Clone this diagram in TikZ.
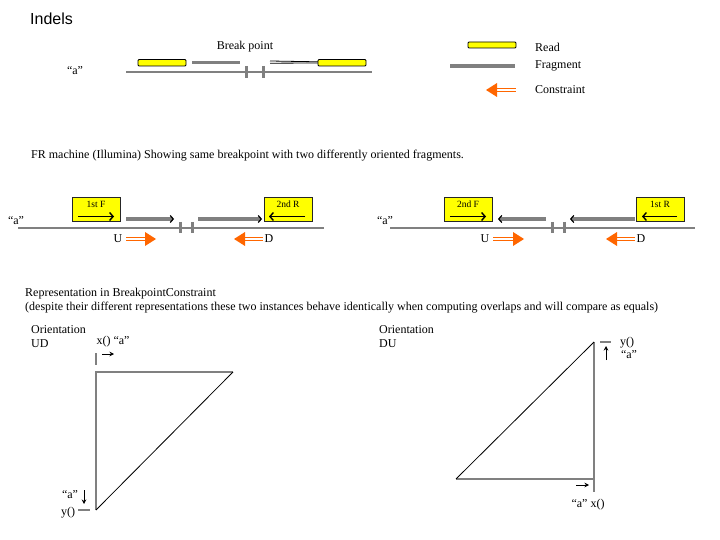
\documentclass[tikz,border=0pt]{standalone}
\usepackage{fontspec}
\setmainfont{Liberation Serif}
\newfontfamily\titlefont{Liberation Sans}
\usetikzlibrary{arrows.meta}
\definecolor{orng}{RGB}{255,102,0}
\definecolor{gry}{RGB}{128,128,128}
\definecolor{yel}{RGB}{255,255,0}
\tikzset{
  txt/.style={inner sep=0pt, font=\fontsize{12}{14}\selectfont},
  smalltxt/.style={inner sep=0pt, font=\fontsize{12}{14}\selectfont},
  tinytxt/.style={inner sep=0pt, font=\fontsize{9.5}{10}\selectfont},
  ground/.style={draw=gry, line width=2pt},
  frag/.style={draw=gry, line width=3.5pt},
  fragarrow/.style={draw=gry, line width=3.5pt, -{Straight Barb[black,length=3pt,width=7pt,line width=1.2pt]}},
  brk/.style={draw=gry, line width=3pt},
  readbox/.style={draw=black, fill=yel, line width=0.8pt, rounded corners=1pt},
  bigread/.style={draw=black!85, fill=yel, line width=1pt},
  blackarrow/.style={draw=black, line width=1.2pt, -{Straight Barb[length=3.5pt,width=8pt,line width=1.4pt]}},
  smallarrow/.style={draw=black, line width=0.9pt, -{Stealth[length=4.5pt,width=4.5pt]}},
  oshaft/.style={draw=orng, double=white, double distance=1.3pt, line width=1.7pt},
  thinline/.style={draw=black, line width=0.8pt},
  tri/.style={draw=gry, line width=2.5pt},
  diag/.style={draw=black, line width=0.8pt},
}
\begin{document}
\begin{tikzpicture}[x=1pt,y=-1pt]
\useasboundingbox (0,0) rectangle (720,540);
% title
\node[inner sep=0pt, anchor=west, font=\titlefont\fontsize{16}{18}\selectfont] (title) at (30,19) {Indels};

% ---------- top section
\node[txt] (qa0) at (75,71) {“a”};
\draw[ground] (126,72) -- (372,72);
\draw[brk] (246,66) -- (246,78);
\draw[brk] (263,66) -- (263,78);
\draw[readbox] (138,59.5) rectangle (186,66);
\draw[frag] (192,62.5) -- (240,62.5);
\draw[thinline] (270,61) -- (318,61.8);
\draw[thinline] (270,63.2) -- (318,63);
\draw[readbox] (318,59.5) rectangle (366,66);
\node[txt] (bp) at (245,47) {Break point};

% legend
\draw[readbox] (468,42) rectangle (516,48);
\draw[frag] (450,66) -- (515,66);
\draw[oshaft] (496,90) -- (516,90);
\fill[orng] (486,90) -- ++(11,-7) -- ++(0,14) -- cycle;
\node[txt, anchor=west] (lread) at (535,47) {Read};
\node[txt, anchor=west] (lfrag) at (535,66) {Fragment};
\node[txt, anchor=west] (lcons) at (535,90) {Constraint};

\node[smalltxt, anchor=west] (fr) at (31,156) {FR machine (Illumina) Showing same breakpoint with two differently oriented fragments.};

% ---------- middle left
\node[txt] (qa1) at (16,221) {“a”};
\draw[ground] (18,228) -- (324,228);
\draw[bigread] (72,198) rectangle (120,222);
\node[tinytxt] (l1f) at (96,204) {1st F};
\draw[blackarrow] (78,216.5) -- (114,216.5);
\draw[fragarrow] (126,219) -- (174,219);
\draw[fragarrow] (198,219) -- (262,219);
\draw[bigread] (264,198) rectangle (312,222);
\node[tinytxt] (l2r) at (288,204) {2nd R};
\draw[blackarrow] (305,216.5) -- (269,216.5);
\draw[brk] (180,222) -- (180,233);
\draw[brk] (192,222) -- (192,233);
\node[txt] (u1) at (118,239) {U};
\draw[oshaft] (126,239) -- (146,239);
\fill[orng] (156,239) -- ++(-11,-7) -- ++(0,14) -- cycle;
\draw[oshaft] (244,239) -- (263,239);
\fill[orng] (234,239) -- ++(11,-7) -- ++(0,14) -- cycle;
\node[txt] (d1) at (269,239) {D};

% ---------- middle right
\node[txt] (qa2) at (385,221) {“a”};
\draw[ground] (390,228) -- (695,228);
\draw[bigread] (444,198) rectangle (492,222);
\node[tinytxt] (l2f) at (468,204) {2nd F};
\draw[blackarrow] (450,216.5) -- (486,216.5);
\draw[fragarrow] (546,219) -- (498,219);
\draw[fragarrow] (635,219) -- (570,219);
\draw[bigread] (636,198) rectangle (684,222);
\node[tinytxt] (l1r) at (660,204) {1st R};
\draw[blackarrow] (677,216.5) -- (642,216.5);
\draw[brk] (552,222) -- (552,233);
\draw[brk] (564,222) -- (564,233);
\node[txt] (u2) at (485,239) {U};
\draw[oshaft] (493,239) -- (514,239);
\fill[orng] (524,239) -- ++(-11,-7) -- ++(0,14) -- cycle;
\draw[oshaft] (616,239) -- (635,239);
\fill[orng] (606,239) -- ++(11,-7) -- ++(0,14) -- cycle;
\node[txt] (d2) at (641,239) {D};

% ---------- representation text
\node[smalltxt, anchor=west] (rep1) at (25,294) {Representation in BreakpointConstraint};
\node[smalltxt, anchor=west] (rep2) at (25,308) {(despite their different representations these two instances behave identically when computing overlaps and will compare as equals)};

% ---------- lower left (UD)
\node[smalltxt, anchor=west] (or1) at (31,330) {Orientation};
\node[smalltxt, anchor=west] (ud) at (31,344) {UD};
\node[smalltxt] (xa1) at (113,342) {x() “a”};
\draw[draw=gry, line width=1.5pt] (96,353) -- (96,365);
\draw[smallarrow] (102,354) -- (114,354);
\coordinate (ul) at (96,372);
\coordinate (ur) at (233,372);
\coordinate (ll) at (96,510);
\draw[tri] (ur) -- (ul) -- (ll);
\draw[diag] (ur) -- (ll);
\node[smalltxt] (a1b) at (70,495) {“a”};
\draw[smallarrow] (84,490) -- (84,504);
\node[smalltxt] (y1) at (68,513) {y()};
\draw[draw=gry, line width=1.5pt] (78,510) -- (90,510);

% ---------- lower right (DU)
\node[smalltxt, anchor=west] (or2) at (379,330) {Orientation};
\node[smalltxt, anchor=west] (du) at (379,344) {DU};
\coordinate (rt) at (594,342);
\coordinate (rb) at (594,479);
\coordinate (rl) at (456,479);
\draw[tri] (rl) -- (rb);
\draw[tri] (rt) -- (594,492);
\draw[diag] (rl) -- (rt);
\draw[draw=gry, line width=1.5pt] (600,342) -- (611,342);
\draw[smallarrow] (606,360) -- (606,346);
\node[smalltxt] (y2) at (627,343) {y()};
\node[smalltxt] (a2) at (629,355) {“a”};
\draw[smallarrow] (576,485) -- (589,485);
\node[smalltxt] (ax2) at (588,505) {“a” x()};
\end{tikzpicture}
\end{document}
